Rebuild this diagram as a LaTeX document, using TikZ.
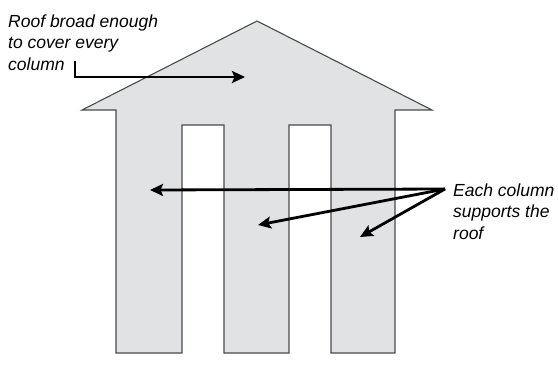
\documentclass[tikz,border=0pt]{standalone}
\usepackage{fontspec}
\setmainfont{Liberation Sans}
\usetikzlibrary{arrows.meta, positioning, calc}

\definecolor{wallgray}{HTML}{E1E2E4}
\definecolor{edgegray}{HTML}{4A4A4A}

\tikzset{
  pointer/.style={-{Stealth[length=13pt,width=12pt,inset=2.5pt]}, line width=2.8pt, line join=miter},
  note/.style={font=\fontsize{17.5}{21.5}\selectfont\itshape, align=left, inner sep=0pt}
}

\begin{document}
\begin{tikzpicture}[x=1pt, y=-1pt]
        \useasboundingbox (0,0) rectangle (558,376);
        % Roof and columns as one outline
        \draw[fill=wallgray, draw=edgegray, line width=1.1pt]
            (82,110) -- (257,21) -- (432,110) -- (395,110) -- (395,353)
            -- (331,353) -- (331,125) -- (289,125) -- (289,353)
            -- (224,353) -- (224,125) -- (182,125) -- (182,353)
            -- (116,353) -- (116,110) -- cycle;
        % Roof label
        \node[note, anchor=base west] (rooftext) at (8,70) {Roof broad enough\\to cover every\\column};
        \coordinate (roofstart) at (75,61);
        \coordinate (roofend) at (245,77);
        \draw[pointer] (roofstart) |- (roofend);
        % Column label
        \node[note, anchor=base west] (coltext) at (453,239) {Each column\\supports the\\roof};
        \coordinate (hub) at (445,189);
        \coordinate (colA) at (150,190);
        \coordinate (colB) at (258,225);
        \coordinate (colC) at (360,237);
        \draw[pointer] (hub) -- (colA);
        \draw[pointer] (hub) -- (colB);
        \draw[pointer] (hub) -- (colC);
    \end{tikzpicture}
\end{document}
